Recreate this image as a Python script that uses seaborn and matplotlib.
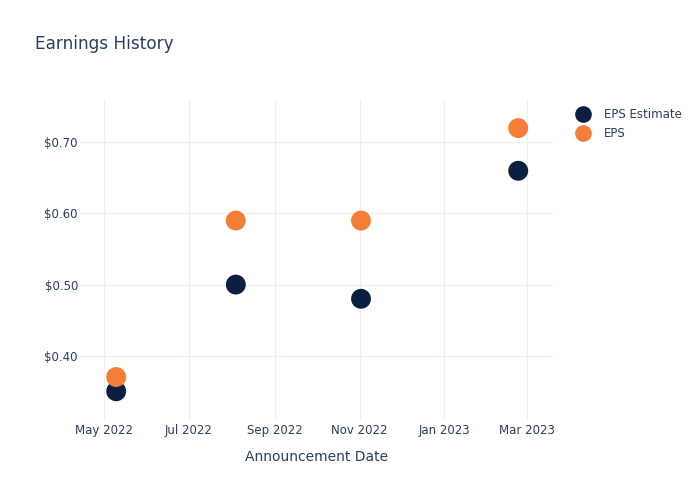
import matplotlib
matplotlib.use("Agg")
import matplotlib.pyplot as plt
import matplotlib.dates as mdates
import matplotlib.ticker as mticker
from matplotlib.lines import Line2D
import seaborn as sns
import pandas as pd

dates = ["2022-05-10", "2022-08-04", "2022-11-02", "2023-02-23"]
eps_estimate = [0.35, 0.50, 0.48, 0.66]
eps_actual = [0.37, 0.59, 0.59, 0.72]
series_names = ["EPS Estimate", "EPS"]
colors = ["#0b1f40", "#f47e36"]

df = pd.DataFrame({
    "date": pd.to_datetime(dates * 2),
    "value": eps_estimate + eps_actual,
    "series": [series_names[0]] * 4 + [series_names[1]] * 4,
})

sns.set_style("white")
plt.rcParams["font.family"] = ["DejaVu Sans"]
text_color = "#2a3f5f"
grid_color = "#ebf0f8"

fig = plt.figure(figsize=(7, 5), dpi=100)
ax = fig.add_axes([80 / 700, 80 / 500, (553 - 80) / 700, 320 / 500])

sns.scatterplot(data=df, x="date", y="value", hue="series",
                palette=dict(zip(series_names, colors)), s=205,
                edgecolor="none", ax=ax, legend=False, zorder=3)

ax.set_xlim(pd.Timestamp("2022-04-14"), pd.Timestamp("2023-03-20"))
ax.set_ylim(0.3096, 0.7595)
ax.xaxis.set_major_locator(mdates.MonthLocator(bymonth=[1, 3, 5, 7, 9, 11]))
ax.xaxis.set_major_formatter(mdates.DateFormatter("%b %Y"))
ax.yaxis.set_major_locator(mticker.FixedLocator([0.4, 0.5, 0.6, 0.7]))
ax.yaxis.set_major_formatter(mticker.FuncFormatter(lambda v, p: f"${v:.2f}"))

ax.grid(True, color=grid_color, linewidth=1)
ax.set_axisbelow(True)
for sp in ax.spines.values():
    sp.set_visible(False)
ax.tick_params(axis="both", length=0, labelsize=8.5, colors=text_color)
ax.tick_params(axis="y", pad=1.5)
ax.tick_params(axis="x", pad=3)
ax.set_xlabel("Announcement Date", fontsize=10, color=text_color, labelpad=9)
ax.set_ylabel("")

fig.text(35 / 700, 1 - 44 / 500, "Earnings History", fontsize=12.2,
         color=text_color, va="center", ha="left")

handles = [Line2D([], [], marker="o", linestyle="none", markersize=12,
                  markerfacecolor=c, markeredgecolor="none") for c in colors]
leg = fig.legend(handles, series_names, loc="upper left",
                 bbox_to_anchor=(571 / 700, 1 - 103 / 500), frameon=False,
                 fontsize=8.5, handletextpad=1.2, labelspacing=0.55,
                 borderaxespad=0, handlelength=1.2)
for t in leg.get_texts():
    t.set_color(text_color)

fig.savefig("out.png", dpi=100)
